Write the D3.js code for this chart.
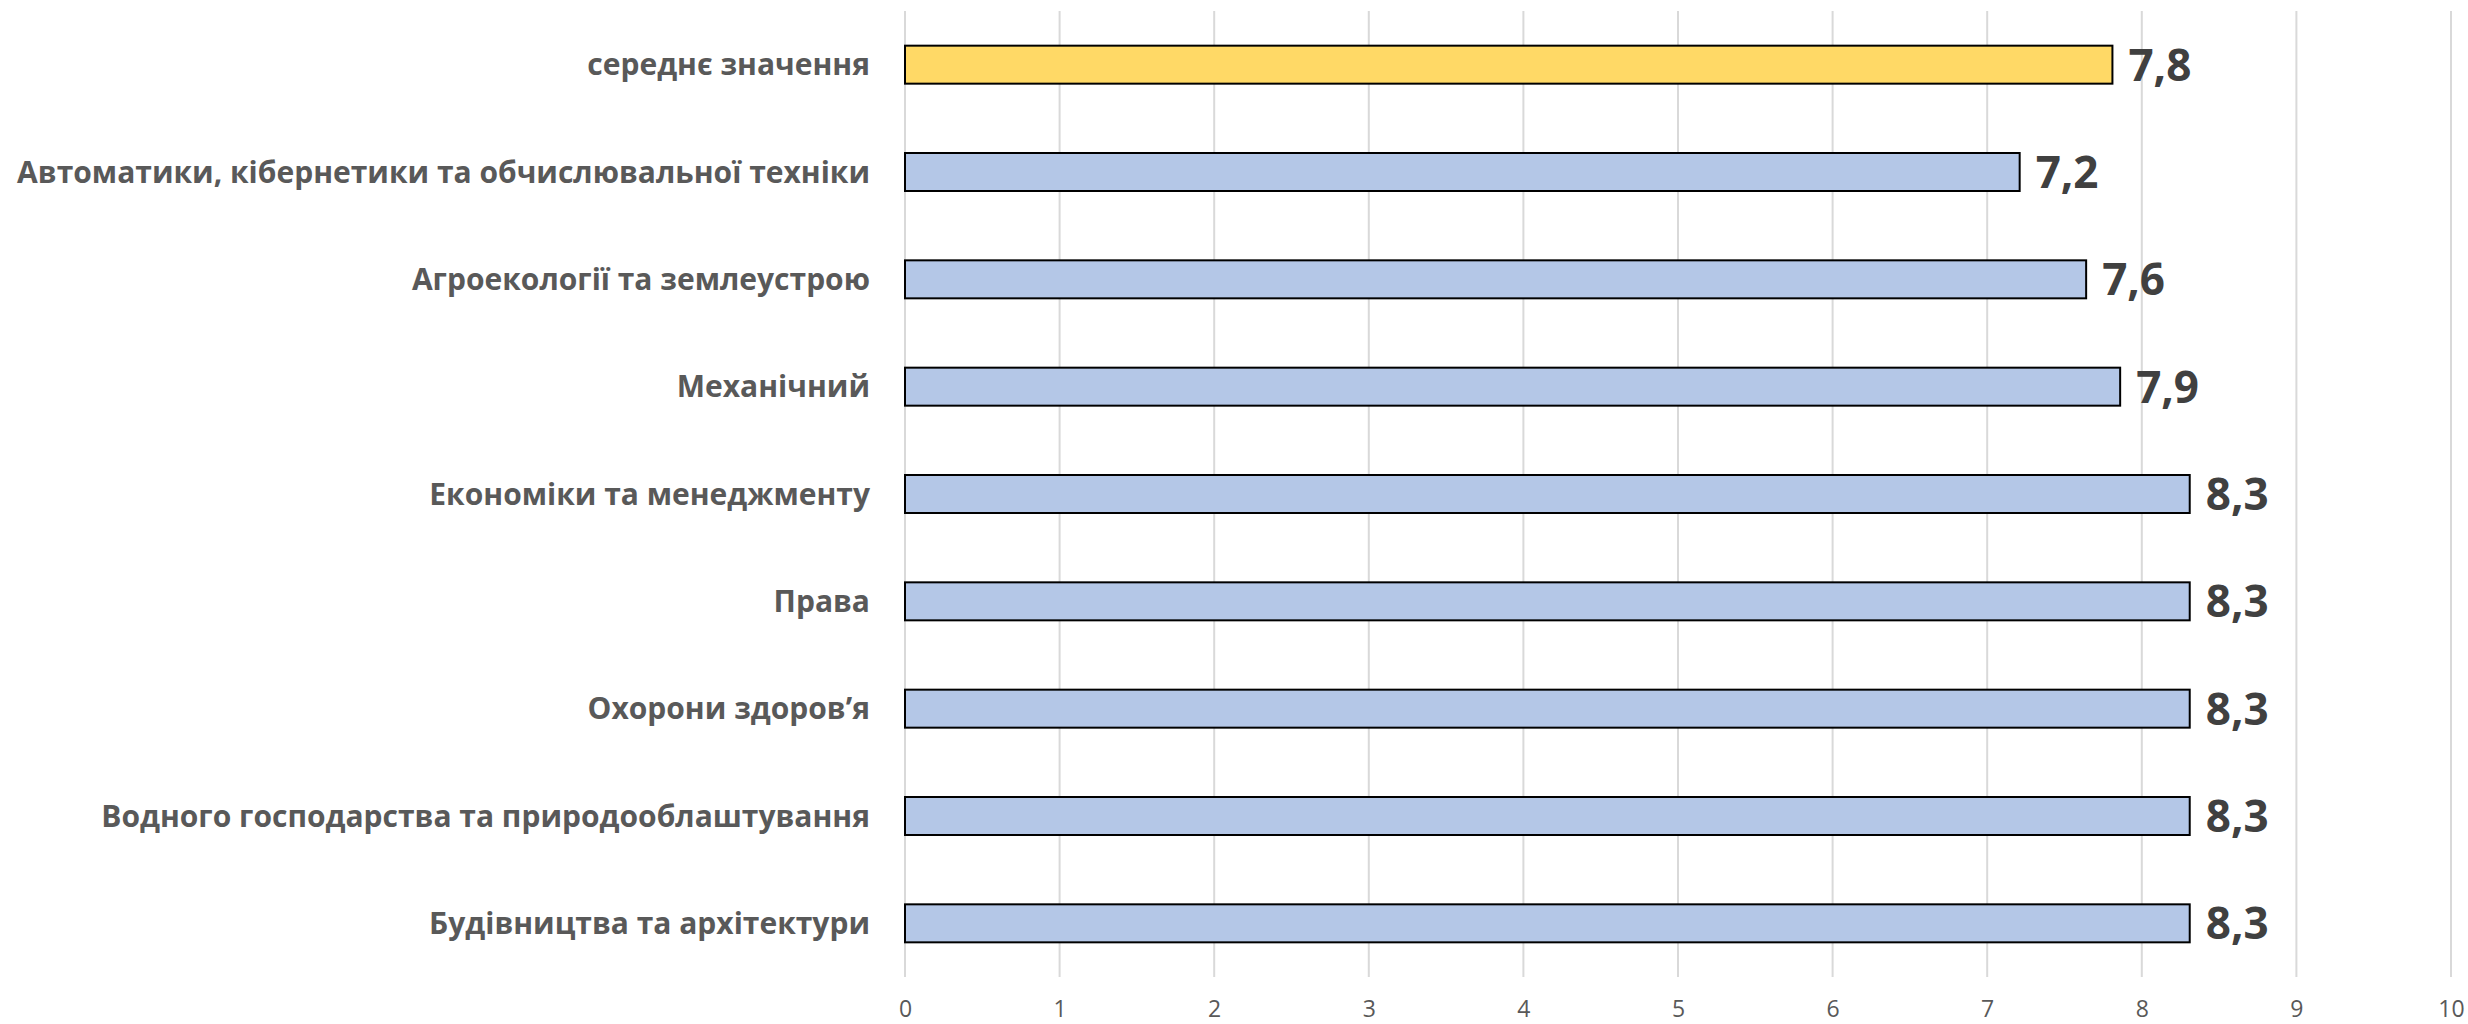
<!DOCTYPE html>
<html><head><meta charset="utf-8">
<script src="https://cdn.jsdelivr.net/npm/d3@7"></script>
<style>html,body{margin:0;padding:0;background:#fff;}</style>
</head><body>
<svg id="chart" width="2468" height="1024"></svg>
<script>
const categories = [
  "середнє значення",
  "Автоматики, кібернетики та обчислювальної техніки",
  "Агроекології та землеустрою",
  "Механічний",
  "Економіки та менеджменту",
  "Права",
  "Охорони здоров’я",
  "Водного господарства та природооблаштування",
  "Будівництва та архітектури"
];
const values = [7.81, 7.21, 7.64, 7.86, 8.31, 8.31, 8.31, 8.31, 8.31];
const highlight = [true, false, false, false, false, false, false, false, false];
const xTicks = [0,1,2,3,4,5,6,7,8,9,10];

const svg = d3.select("#chart");
const m = {left: 905, right: 2451, top: 11, bottom: 977};
const x = d3.scaleLinear().domain([0, 10]).range([m.left, m.right]);
const y = d3.scaleBand().domain(categories).range([m.top, m.bottom]).paddingInner(0.646).paddingOuter(0.323);

// gridlines
svg.append("g").selectAll("line").data(xTicks).join("line")
  .attr("x1", d => x(d)).attr("x2", d => x(d))
  .attr("y1", m.top).attr("y2", m.bottom)
  .attr("stroke", "#d9d9d9").attr("stroke-width", 2);

// x axis labels
const xAxis = d3.axisBottom(x).tickValues(xTicks).tickSize(0).tickPadding(0).tickFormat(d3.format("d"));
const gx = svg.append("g").attr("transform", `translate(0,${m.bottom + 24})`).call(xAxis);
gx.select(".domain").remove();
gx.selectAll("text").attr("font-family", "'Open Sans', sans-serif").attr("font-size", 23)
  .attr("fill", "#595959").attr("dy", "0.71em");

// bars
svg.append("g").selectAll("rect").data(categories).join("rect")
  .attr("x", x(0))
  .attr("y", d => y(d))
  .attr("width", (d, i) => x(values[i]) - x(0))
  .attr("height", y.bandwidth())
  .attr("fill", (d, i) => highlight[i] ? "#FFD966" : "#B4C7E7")
  .attr("stroke", "#000").attr("stroke-width", 2);

// value labels
svg.append("g").selectAll("text").data(categories).join("text")
  .attr("x", (d, i) => x(values[i]) + 16)
  .attr("y", d => y(d) + y.bandwidth() / 2)
  .attr("dy", "0.36em")
  .attr("font-family", "'Open Sans', sans-serif").attr("font-weight", 700)
  .attr("font-size", 44).attr("fill", "#404040")
  .text((d, i) => values[i].toFixed(1).replace(".", ","));

// category labels
const gy = svg.append("g").attr("transform", "translate(870,0)");
gy.selectAll("text").data(categories).join("text")
  .attr("x", 0)
  .attr("y", d => y(d) + y.bandwidth() / 2)
  .attr("dy", "0.36em")
  .attr("text-anchor", "end")
  .attr("font-family", "'Open Sans', sans-serif").attr("font-weight", 700)
  .attr("font-size", 30).attr("fill", "#595959")
  .text(d => d);
</script>
</body></html>
